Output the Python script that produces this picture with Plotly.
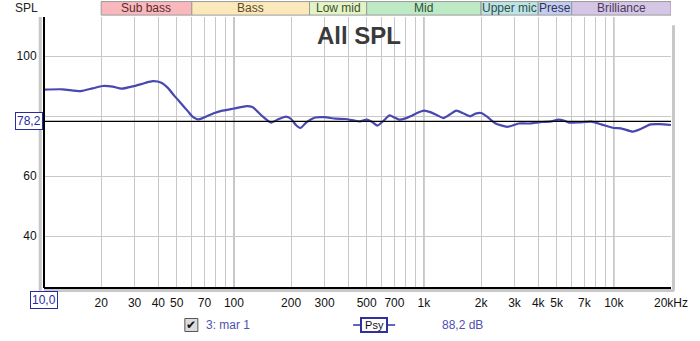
import math
import plotly.graph_objects as go

# ---- data ----
freq_hz = [10, 12.5, 15.6, 18, 20.3, 23, 25.6, 30, 34, 37.4, 41.5, 45, 48.6, 53, 57, 61,
           64.4, 68, 72.5, 79, 85.8, 100, 117, 125, 132, 142, 157, 170, 188, 200, 212,
           224, 240, 268, 300, 343, 386, 430, 461, 500, 535, 570, 615, 660, 700, 740,
           800, 850, 920, 1000, 1090, 1180, 1270, 1370, 1480, 1600, 1750, 1870, 2000,
           2150, 2370, 2750, 3150, 3550, 4200, 4700, 5100, 5500, 5800, 6600, 7600, 8600,
           10000, 10900, 12600, 14000, 15600, 17500, 20000]
spl_db = [88.8, 88.9, 88.3, 89.2, 90.0, 89.8, 89.1, 90.0, 91.0, 91.6, 91.1, 89.3, 86.7,
          84.0, 81.7, 79.6, 78.9, 79.2, 80.0, 81.0, 81.7, 82.5, 83.3, 83.0, 81.7, 79.8,
          77.8, 78.8, 79.8, 79.0, 77.0, 76.0, 77.8, 79.5, 79.6, 79.1, 79.0, 78.5, 78.2,
          78.8, 78.0, 76.8, 78.5, 80.2, 79.5, 78.8, 79.2, 79.9, 81.0, 81.8, 81.2, 80.2,
          79.3, 80.5, 81.8, 81.0, 79.9, 80.8, 81.0, 79.8, 77.6, 76.4, 77.5, 77.5, 78.0,
          78.2, 78.8, 78.4, 77.8, 77.9, 78.1, 77.2, 76.0, 75.9, 74.8, 75.8, 77.2, 77.3, 77.0]

band_names = ["Sub bass", "Bass", "Low mid", "Mid", "Upper mic", "Prese", "Brilliance"]
band_edges = [20, 60, 250, 500, 2000, 4000, 6000, 20000]
band_fill = ["#f9b8bc", "#fbe9bc", "#e3f3c6", "#bde9c5", "#bfe3e3", "#c5cdee", "#d5c6e6"]
band_text = ["#5a2c2e", "#5a4c2a", "#3e5030", "#2e5038", "#2a5050", "#2e3460", "#4a3a5a"]

grid_freqs = [20, 30, 40, 50, 60, 70, 80, 90, 100, 200, 300, 400, 500, 600, 700, 800, 900,
              1000, 2000, 3000, 4000, 5000, 6000, 7000, 8000, 9000, 10000, 20000]
tick_labels = {20: "20", 30: "30", 40: "40", 50: "50", 70: "70", 100: "100", 200: "200",
               300: "300", 500: "500", 700: "700", 1000: "1k", 2000: "2k", 3000: "3k",
               4000: "4k", 5000: "5k", 7000: "7k", 10000: "10k", 20000: "20kHz"}
major_freqs = [100, 1000, 10000]
y_ticks = [40, 60, 80, 100]
y_ticktext = ["40", "60", "", "100"]
ref_level = 78.2
ref_label = "78,2"
x_start_label = "10,0"
legend_name = "3: mar 1"
legend_value = "88,2 dB"

FONT = "Liberation Sans, Arial, sans-serif"
BLUE = "#4848b0"

fig = go.Figure()
fig.add_trace(go.Scatter(x=freq_hz, y=spl_db, mode="lines",
                         line=dict(color=BLUE, width=2.2, shape="spline", smoothing=0.6),
                         hoverinfo="skip", showlegend=False))

shapes = []
annotations = []

# major vertical grid lines
for f in major_freqs:
    shapes.append(dict(type="line", xref="x", yref="paper", x0=f, x1=f, y0=0, y1=1,
                       line=dict(color="#808080", width=1), layer="below"))

# reference horizontal line
shapes.append(dict(type="line", xref="paper", yref="y", x0=0, x1=1, y0=ref_level, y1=ref_level,
                   line=dict(color="#000000", width=1.2)))

# frame: left/bottom black axes with shadows, right gray border
shapes.append(dict(type="line", xref="paper", yref="paper", x0=-0.006, x1=-0.006, y0=-0.01, y1=1,
                   line=dict(color="#c8c8c8", width=3)))
shapes.append(dict(type="line", xref="paper", yref="paper", x0=0, x1=0, y0=0, y1=1,
                   line=dict(color="#000000", width=2)))
shapes.append(dict(type="line", xref="paper", yref="paper", x0=0, x1=1.005, y0=-0.009, y1=-0.009,
                   line=dict(color="#c8c8c8", width=3)))
shapes.append(dict(type="line", xref="paper", yref="paper", x0=0, x1=1, y0=0, y1=0,
                   line=dict(color="#000000", width=2)))
shapes.append(dict(type="line", xref="paper", yref="paper", x0=1.004, x1=1.004, y0=-0.01, y1=0.97,
                   line=dict(color="#c8c8c8", width=3)))

# frequency band strip
for name, lo, hi, fc, tc in zip(band_names, band_edges[:-1], band_edges[1:], band_fill, band_text):
    shapes.append(dict(type="rect", xref="x", yref="paper", x0=lo, x1=hi, y0=1.007, y1=1.057,
                       fillcolor=fc, line=dict(color="#9a9a9a", width=1), layer="above"))
    annotations.append(dict(x=(math.log10(lo) + math.log10(hi)) / 2, y=1.032, xref="x", yref="paper",
                            text=name, showarrow=False, font=dict(family=FONT, size=12, color=tc),
                            xanchor="center", yanchor="middle"))

# title
annotations.append(dict(x=0.503, y=0.93, xref="paper", yref="paper", text="<b>All SPL</b>",
                        showarrow=False, font=dict(family=FONT, size=24, color="#3a3a3a"),
                        xanchor="center", yanchor="middle"))
# axis name
annotations.append(dict(x=-0.028, y=1.033, xref="paper", yref="paper", text="SPL",
                        showarrow=False, font=dict(family=FONT, size=12, color="#222222"),
                        xanchor="center", yanchor="middle"))
# reference level box
annotations.append(dict(x=-0.002, y=ref_level, xref="paper", yref="y", text=ref_label,
                        showarrow=False, font=dict(family=FONT, size=12, color="#2a2aa0"),
                        xanchor="right", yanchor="middle", bgcolor="#ffffff",
                        bordercolor="#2a2aa0", borderwidth=1, borderpad=1))
# x start box
annotations.append(dict(x=0.0, y=-0.045, xref="paper", yref="paper", text=x_start_label,
                        showarrow=False, font=dict(family=FONT, size=12, color="#2a2aa0"),
                        xanchor="center", yanchor="middle", bgcolor="#ffffff",
                        bordercolor="#2a2aa0", borderwidth=1, borderpad=1))

# legend row
shapes.append(dict(type="rect", xref="paper", yref="paper", xsizemode="pixel", ysizemode="pixel",
                   xanchor=0.235, yanchor=-0.1365, x0=-6.5, x1=6.5, y0=-6.5, y1=6.5,
                   fillcolor="#dcdcdc", line=dict(color="#555555", width=1)))
annotations.append(dict(x=0.235, y=-0.1365, xref="paper", yref="paper", text="✔",
                        showarrow=False, font=dict(family="DejaVu Sans", size=12, color="#111111"),
                        xanchor="center", yanchor="middle"))
annotations.append(dict(x=0.2555, y=-0.1365, xref="paper", yref="paper", text=legend_name,
                        showarrow=False, font=dict(family=FONT, size=12, color="#5050b0"),
                        xanchor="left", yanchor="middle"))
shapes.append(dict(type="line", xref="paper", yref="paper", x0=0.493, x1=0.560,
                   y0=-0.1365, y1=-0.1365, line=dict(color="#3030a0", width=1.5)))
annotations.append(dict(x=0.5265, y=-0.1365, xref="paper", yref="paper", text=" Psy ",
                        showarrow=False, font=dict(family=FONT, size=11, color="#111111"),
                        xanchor="center", yanchor="middle", bgcolor="#ffffff",
                        bordercolor="#3030a0", borderwidth=2, borderpad=0))
annotations.append(dict(x=0.631, y=-0.1365, xref="paper", yref="paper", text=legend_value,
                        showarrow=False, font=dict(family=FONT, size=12, color="#5050b0"),
                        xanchor="left", yanchor="middle"))

fig.update_layout(
    width=700, height=341,
    margin=dict(l=44, r=22, t=17, b=53),
    paper_bgcolor="#ffffff", plot_bgcolor="#ffffff",
    font=dict(family=FONT, size=12, color="#111111"),
    shapes=shapes, annotations=annotations, showlegend=False,
    xaxis=dict(type="log", range=[1, 4.30103], tickvals=grid_freqs,
               ticktext=[tick_labels.get(f, "") for f in grid_freqs],
               showgrid=True, gridcolor="#c8c8c8", gridwidth=1, zeroline=False,
               showline=False, ticks="outside", ticklen=4, tickcolor="rgba(0,0,0,0)",
               tickfont=dict(family=FONT, size=12, color="#111111"), fixedrange=True),
    yaxis=dict(range=[22.67, 113], tickvals=y_ticks, ticktext=y_ticktext,
               showgrid=True, gridcolor="#c8c8c8", gridwidth=1, zeroline=False,
               showline=False, ticks="outside", ticklen=4, tickcolor="rgba(0,0,0,0)",
               tickfont=dict(family=FONT, size=12, color="#111111"), fixedrange=True),
)

fig.write_html("out.html")
